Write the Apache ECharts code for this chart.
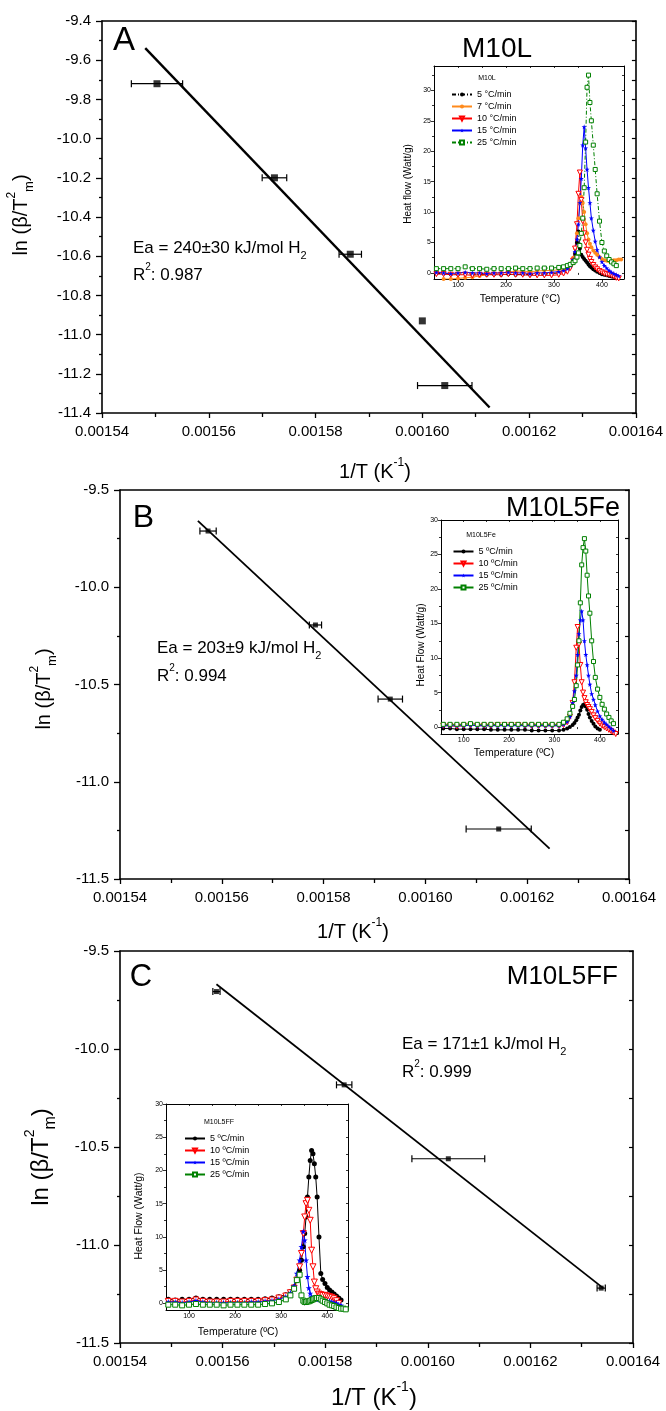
<!DOCTYPE html>
<html><head><meta charset="utf-8">
<script src="https://cdn.jsdelivr.net/npm/echarts@6/dist/echarts.min.js"></script>
<style>html,body{margin:0;padding:0;background:#fff}#c{width:666px;height:1411px}</style>
</head><body><div id="c"></div>
<script>
// ================= DATA =================
// Kissinger plots: 1/T (K^-1), ln(beta/Tm^2), horizontal error (K^-1)
const aInvT = [0.0015503, 0.0015723, 0.0015865, 0.0016000, 0.0016042];
const aLn   = [-9.72, -10.20, -10.59, -10.93, -11.26];
const aErr  = [0.0000048, 0.0000023, 0.0000021, 0, 0.0000051];
const aFitInvT = [0.0015481, 0.0016126];
const aFitLn   = [-9.538, -11.372];

const bInvT = [0.0015573, 0.0015784, 0.0015931, 0.0016144];
const bLn   = [-9.711, -10.194, -10.575, -11.243];
const bErr  = [0.0000016, 0.0000012, 0.0000024, 0.0000064];
const bFitInvT = [0.0015553, 0.0016244];
const bFitLn   = [-9.659, -11.344];

const cInvT = [0.0015588, 0.0015837, 0.0016040, 0.0016338];
const cLn   = [-9.707, -10.183, -10.560, -11.220];
const cErr  = [0.0000007, 0.0000015, 0.0000071, 0.0000008];
const cFitInvT = [0.0015588, 0.0016342];
const cFitLn   = [-9.670, -11.220];

// main axis tick settings (values)
const invTMin = 0.00154, invTMax = 0.00164, invTStep = 0.00002;

// DSC insets: temperature grid (°C)
const temps = [55,70,85,100,115,130,145,160,175,190,205,220,235,250,265,280,295,310,320,
  328,334,340,344,348,351,354,357,360,363,366,369,372,375,378,
  382,386,390,395,400,405,410,415,420,425,430,435,440];

// M10L heat flow (W/g)
const m10l_5 = [-0.1,-0.1,-0.2,-0.2,-0.1,-0.2,-0.2,-0.3,-0.2,-0.3,-0.2,-0.3,-0.2,-0.3,-0.2,-0.2,-0.1,0.0,0.2,
  0.5,1.0,2.0,3.2,5.0,6.8,4.0,3.0,2.6,2.3,2.0,1.7,1.4,1.1,0.9,
  0.6,0.4,0.2,0.0,-0.2,-0.3,-0.4,-0.5,-0.6,-0.7,-0.8,null,null];
const m10l_7 = [null,-1.0,-1.0,-0.9,-0.8,-0.7,-0.5,-0.3,-0.1,0.0,0.1,0.3,0.3,0.2,0.3,0.4,0.4,0.5,0.7,
  1.0,1.5,2.5,4.0,6.5,9.0,11.5,12.5,11.5,10.0,8.0,6.5,5.5,4.8,4.2,
  3.7,3.3,3.0,2.6,2.3,2.1,2.0,1.9,2.0,2.1,2.1,2.2,2.2];
const m10l_10 = [-0.2,-0.2,-0.3,-0.3,-0.3,-0.4,-0.3,-0.3,-0.3,-0.3,-0.2,-0.3,-0.3,-0.4,-0.4,-0.4,-0.4,-0.3,-0.1,
  0.2,0.8,2.0,4.0,8.0,13.0,16.5,12.0,8.5,6.5,5.0,3.8,3.0,2.3,1.8,
  1.3,0.9,0.6,0.3,0.1,-0.1,-0.2,-0.3,-0.4,-0.6,-0.8,-0.9,null];
const m10l_15 = [0.1,0.0,-0.1,0.0,0.1,0.0,0.0,-0.1,0.0,0.0,0.1,0.0,0.0,-0.1,0.0,0.0,0.1,0.2,0.4,
  0.7,1.2,2.2,3.5,5.5,8.0,11.5,15.5,21.0,24.0,20.5,17.0,14.0,11.5,9.0,
  7.0,5.2,3.8,2.6,1.8,1.2,0.8,0.4,0.1,-0.1,-0.3,-0.5,null];
const m10l_25 = [0.7,0.7,0.7,0.7,1.0,0.7,0.7,0.6,0.7,0.7,0.7,0.8,0.7,0.7,0.8,0.8,0.8,0.9,1.0,
  1.2,1.4,1.7,2.0,2.6,3.3,4.5,6.5,9.0,14.0,21.5,30.5,32.5,28.0,25.0,
  21.0,17.0,13.0,8.5,5.0,3.6,2.8,2.2,1.8,1.5,1.2,null,null];

// M10L5Fe heat flow (W/g)
const fe_5 = [-0.2,-0.2,-0.3,-0.3,-0.3,-0.3,-0.3,-0.4,-0.4,-0.4,-0.4,-0.4,-0.4,-0.5,-0.5,-0.5,-0.5,-0.5,-0.4,
  -0.2,0.0,0.3,0.6,1.0,1.4,1.8,2.4,2.9,3.2,3.3,3.0,2.5,1.9,1.4,
  0.9,0.5,0.1,-0.2,-0.4,null,null,null,null,null,null,null,null];
const fe_10 = [0.2,0.2,0.1,0.2,0.3,0.2,0.2,0.2,0.3,0.3,0.3,0.3,0.2,0.2,0.2,0.2,0.2,0.2,0.3,
  0.7,1.5,3.5,6.5,11.5,14.5,12.0,9.0,6.5,5.0,4.2,3.6,3.2,2.9,2.6,
  2.2,1.7,1.3,0.9,0.5,0.2,0.0,-0.2,-0.4,-0.6,-0.8,-1.0,null];
const fe_15 = [0.2,0.2,0.2,0.2,0.3,0.2,0.2,0.2,0.2,0.2,0.2,0.2,0.2,0.2,0.2,0.2,0.2,0.2,0.4,
  0.8,1.5,3.5,5.2,7.5,10.5,13.5,15.5,16.8,15.5,12.5,10.5,9.0,7.5,6.2,
  4.8,4.0,3.2,2.3,1.6,1.1,0.7,0.4,0.1,-0.2,-0.5,null,null];
const fe_25 = [0.4,0.4,0.4,0.4,0.5,0.4,0.4,0.4,0.4,0.4,0.4,0.4,0.4,0.4,0.4,0.4,0.4,0.4,0.7,
  1.2,2.0,3.0,4.0,6.0,9.0,12.5,18.0,23.5,26.0,27.3,25.5,22.0,19.0,16.5,
  12.5,9.5,7.2,5.5,4.3,3.3,2.6,1.9,1.4,0.9,0.5,null,null];

// M10L5FF heat flow (W/g)
const ff_5 = [0.6,0.5,0.6,0.6,0.8,0.6,0.6,0.6,0.6,0.6,0.6,0.6,0.6,0.6,0.7,0.8,1.0,1.3,1.8,
  2.5,3.5,5.0,6.5,8.5,10.5,13.0,16.0,19.0,21.5,23.0,22.5,21.0,19.0,16.0,
  10.0,4.5,3.6,3.0,2.4,2.0,1.7,1.4,1.1,0.8,0.5,null,null];
const ff_10 = [0.3,0.3,0.2,0.3,0.5,0.3,0.2,0.2,0.2,0.3,0.3,0.3,0.3,0.3,0.4,0.5,0.8,1.1,1.6,
  2.3,3.5,5.5,7.5,10.5,13.0,15.0,15.5,14.0,12.5,8.0,5.5,3.2,2.2,1.7,
  1.4,1.3,1.2,1.2,1.1,1.0,0.9,0.7,0.4,0.0,null,null,null];
const ff_15 = [0.2,0.2,0.1,0.2,0.4,0.2,0.1,0.1,0.1,0.1,0.1,0.1,0.2,0.2,0.3,0.4,0.6,1.0,1.6,
  2.6,4.5,6.5,8.5,10.8,9.5,6.5,4.0,2.3,1.5,1.0,0.8,0.7,0.7,0.6,
  0.6,0.5,0.5,0.4,0.3,0.3,0.2,0.1,0.0,-0.2,-0.3,null,null];
const ff_25 = [-0.2,-0.2,-0.3,-0.2,-0.1,-0.2,-0.2,-0.2,-0.3,-0.2,-0.2,-0.2,-0.2,-0.2,-0.1,0.0,0.2,0.6,1.2,
  2.2,3.5,4.3,1.2,0.4,0.2,0.2,0.3,0.3,0.4,0.5,0.6,0.7,0.8,0.8,
  0.8,0.6,0.4,0.2,0.0,-0.2,-0.3,-0.4,-0.6,-0.7,-0.8,-0.8,-0.9];

// inset tick values
const insetXMajor = [100, 200, 300, 400];
const insetXMinor = [50, 150, 250, 350];
const insetYMajor = [0, 5, 10, 15, 20, 25, 30];
const insetYMinor = [2.5, 7.5, 12.5, 17.5, 22.5, 27.5, 32.5];

// ================= CHART =================
const FONT = '"Liberation Sans", Arial, Helvetica, sans-serif';
const xAxes = [], yAxes = [], grids = [], series = [];

function addMainGrid(g, ymin, ymax, yint, rint) {
  const gi = grids.length; grids.push(Object.assign({containLabel:false}, g));
  const xi = xAxes.length, yi = yAxes.length;
  const line = {show:true, onZero:false, lineStyle:{color:'#000', width:1.6}};
  xAxes.push({gridIndex:gi, type:'value', position:'bottom', min:invTMin, max:invTMax, interval:invTStep,
    axisLine:line, splitLine:{show:false},
    axisTick:{show:true, inside:false, length:5, lineStyle:{color:'#000', width:1.3}},
    minorTick:{show:true, splitNumber:2, length:4, lineStyle:{color:'#000', width:1.3}},
    axisLabel:{show:true, margin:11, color:'#000', fontSize:15, fontFamily:FONT, formatter:v=>v.toFixed(5)}});
  xAxes.push({gridIndex:gi, type:'value', position:'top', min:invTMin, max:invTMax, interval:invTStep,
    axisLine:line, splitLine:{show:false}, axisTick:{show:false}, axisLabel:{show:false}});
  yAxes.push({gridIndex:gi, type:'value', position:'left', min:ymin, max:ymax, interval:yint,
    axisLine:line, splitLine:{show:false},
    axisTick:{show:true, inside:false, length:6, lineStyle:{color:'#000', width:1.3}},
    minorTick:{show:true, splitNumber:2, length:3, lineStyle:{color:'#000', width:1.3}},
    axisLabel:{show:true, margin:11, color:'#000', fontSize:15, fontFamily:FONT, formatter:v=>v.toFixed(1)}});
  yAxes.push({gridIndex:gi, type:'value', position:'right', min:ymin, max:ymax, interval:rint,
    axisLine:line, splitLine:{show:false},
    axisTick:{show:true, inside:true, length:4, lineStyle:{color:'#000', width:1.2}},
    axisLabel:{show:false}});
  return [xi, yi];
}

function addInsetGrid(g, xmin, xmax, ymin, ymax) {
  const gi = grids.length;
  grids.push(Object.assign({show:true, backgroundColor:'#fff', borderWidth:0, containLabel:false}, g));
  const xi = xAxes.length, yi = yAxes.length;
  const inR = (arr, a, b) => arr.filter(v => v >= a && v <= b);
  const line = {show:true, onZero:false, lineStyle:{color:'#000', width:1}};
  const tk = (vals, inside, len) => ({show:true, inside, length:len, customValues:vals, lineStyle:{color:'#000', width:0.8}});
  const lab = {show:true, customValues:inR(insetXMajor,xmin,xmax), margin:3, color:'#000', fontSize:7, fontFamily:FONT};
  xAxes.push({gridIndex:gi, type:'value', position:'bottom', min:xmin, max:xmax, axisLine:line,
    splitLine:{show:false}, axisTick:tk(inR(insetXMajor,xmin,xmax), false, 3), axisLabel:lab});
  xAxes.push({gridIndex:gi, type:'value', position:'bottom', min:xmin, max:xmax, axisLine:{show:false},
    splitLine:{show:false}, axisTick:tk(inR(insetXMinor,xmin,xmax), false, 2), axisLabel:{show:false}});
  xAxes.push({gridIndex:gi, type:'value', position:'top', min:xmin, max:xmax, axisLine:line,
    splitLine:{show:false}, axisTick:tk(inR(insetXMajor.concat(insetXMinor),xmin,xmax), true, 2), axisLabel:{show:false}});
  yAxes.push({gridIndex:gi, type:'value', position:'left', min:ymin, max:ymax, axisLine:line,
    splitLine:{show:false}, axisTick:tk(inR(insetYMajor,ymin,ymax), false, 3),
    axisLabel:{show:true, customValues:inR(insetYMajor,ymin,ymax), margin:3, color:'#000', fontSize:7, fontFamily:FONT}});
  yAxes.push({gridIndex:gi, type:'value', position:'left', min:ymin, max:ymax, axisLine:{show:false},
    splitLine:{show:false}, axisTick:tk(inR(insetYMinor,ymin,ymax), false, 2), axisLabel:{show:false}});
  yAxes.push({gridIndex:gi, type:'value', position:'right', min:ymin, max:ymax, axisLine:line,
    splitLine:{show:false}, axisTick:tk(inR(insetYMajor.concat(insetYMinor),ymin,ymax), true, 2), axisLabel:{show:false}});
  return [xi, yi];
}

function errRender(params, api) {
  const x = api.value(0), y = api.value(1), e = api.value(2);
  if (!e) return {type:'group', children:[]};
  const p1 = api.coord([x - e, y]), p2 = api.coord([x + e, y]);
  const cap = 3.5, st = {stroke:'#000', lineWidth:1.2};
  return {type:'group', children:[
    {type:'line', shape:{x1:p1[0], y1:p1[1], x2:p2[0], y2:p2[1]}, style:st},
    {type:'line', shape:{x1:p1[0], y1:p1[1]-cap, x2:p1[0], y2:p1[1]+cap}, style:st},
    {type:'line', shape:{x1:p2[0], y1:p2[1]-cap, x2:p2[0], y2:p2[1]+cap}, style:st}
  ]};
}

function addKissinger(ax, xs, ys, es, fx, fy, msize, lw) {
  const [xi, yi] = ax;
  series.push({type:'custom', xAxisIndex:xi, yAxisIndex:yi, renderItem:errRender, clip:false,
    encode:{x:0, y:1}, data:xs.map((x,i)=>[x, ys[i], es[i]]), z:3, silent:true});
  series.push({type:'scatter', xAxisIndex:xi, yAxisIndex:yi, symbol:'rect', symbolSize:msize,
    itemStyle:{color:'#000'}, data:xs.map((x,i)=>[x, ys[i]]), z:4, silent:true});
  series.push({type:'line', xAxisIndex:xi, yAxisIndex:yi, symbol:'none', data:fx.map((x,i)=>[x, fy[i]]),
    lineStyle:{color:'#000', width:lw}, z:5, silent:true});
}

const STAR = 'path://M0,-10L2.35,-3.24L9.51,-3.09L3.8,1.24L5.88,8.09L0,4L-5.88,8.09L-3.8,1.24L-9.51,-3.09L-2.35,-3.24Z';
function addDsc(ax, name, ys, color, sym, open, dash, size, rot) {
  const [xi, yi] = ax;
  const data = [];
  temps.forEach((t, i) => { if (ys[i] !== null) data.push([t, ys[i]]); });
  series.push({type:'line', name, xAxisIndex:xi, yAxisIndex:yi, data, symbol:sym, symbolSize:size,
    symbolRotate:rot || 0, showSymbol:true, showAllSymbol:true, silent:true,
    lineStyle:{color, width:1, type: dash ? [4,2,1,2] : 'solid'},
    itemStyle:{color: open ? '#fff' : color, borderColor: color, borderWidth: open ? 1 : 0}, z:3});
}

// panels
const mainA = addMainGrid({left:102, top:21, width:537, height:392}, -11.4, -9.4, 0.2, 0.1);
const insA = addInsetGrid({left:434, top:66, width:190, height:213}, 50, 446, -1, 34);
const mainB = addMainGrid({left:120, top:490, width:509, height:389}, -11.5, -9.5, 0.5, 0.25);
const insB = addInsetGrid({left:441, top:520, width:177, height:214}, 50, 440, -1, 30);
const mainC = addMainGrid({left:120, top:951, width:513, height:392}, -11.5, -9.5, 0.5, 0.25);
const insC = addInsetGrid({left:166, top:1104, width:182, height:206}, 50, 445, -1, 30);

addKissinger(mainA, aInvT, aLn, aErr, aFitInvT, aFitLn, 7, 2.4);
addKissinger(mainB, bInvT, bLn, bErr, bFitInvT, bFitLn, 5, 1.8);
addKissinger(mainC, cInvT, cLn, cErr, cFitInvT, cFitLn, 5, 1.8);

const BLACK='#000000', ORANGE='#ff8a1c', RED='#ff0000', BLUE='#0000ff', GREEN='#008000';
const namesA = ['5 °C/min','7 °C/min','10 °C/min','15 °C/min','25 °C/min'];
const namesBC = ['5 ºC/min','10 ºC/min','15 ºC/min','25 ºC/min'];

addDsc(insA, namesA[0], m10l_5, BLACK, 'circle', false, true, 4);
addDsc(insA, namesA[1], m10l_7, ORANGE, 'circle', false, false, 4);
addDsc(insA, namesA[2], m10l_10, RED, 'triangle', true, false, 5, 180);
addDsc(insA, namesA[3], m10l_15, BLUE, STAR, false, false, 5);
addDsc(insA, namesA[4], m10l_25, GREEN, 'rect', true, true, 4);

addDsc(insB, namesBC[0], fe_5, BLACK, 'circle', false, false, 4);
addDsc(insB, namesBC[1], fe_10, RED, 'triangle', true, false, 5, 180);
addDsc(insB, namesBC[2], fe_15, BLUE, STAR, false, false, 5);
addDsc(insB, namesBC[3], fe_25, GREEN, 'rect', true, false, 4);

addDsc(insC, namesBC[0], ff_5, BLACK, 'circle', false, false, 5);
addDsc(insC, namesBC[1], ff_10, RED, 'triangle', true, false, 6, 180);
addDsc(insC, namesBC[2], ff_15, BLUE, STAR, false, false, 6);
addDsc(insC, namesBC[3], ff_25, GREEN, 'rect', true, false, 5);

function legendAt(left, top, names) {
  return {show:true, orient:'vertical', left, top, padding:0, itemWidth:20, itemHeight:5, itemGap:3,
    selectedMode:false, data:names,
    textStyle:{color:'#000', fontSize:9, lineHeight:8, fontFamily:FONT}};
}

function richSet(F) {
  return {
    n:{fontSize:F, fontFamily:FONT, lineHeight:Math.round(F*1.5), fill:'#000'},
    sup:{fontSize:Math.round(F*0.6), fontFamily:FONT, lineHeight:Math.round(F*0.9), verticalAlign:'top', fill:'#000'},
    sub:{fontSize:Math.round(F*0.65), fontFamily:FONT, lineHeight:Math.round(F*0.65), verticalAlign:'bottom', fill:'#000'}
  };
}
function txt(x, y, text, size, align, rot) {
  return {type:'text', x, y, rotation:rot || 0, z:100, silent:true,
    style:{text, fill:'#000', fontSize:size, fontFamily:FONT, textAlign:align || 'center', textVerticalAlign:'middle'}};
}
function rtxt(x, y, text, size, align, rot) {
  return {type:'text', x, y, rotation:rot || 0, z:100, silent:true,
    style:{text, fill:'#000', fontSize:size, fontFamily:FONT, textAlign:align || 'center', textVerticalAlign:'middle', rich:richSet(size)}};
}
const R90 = Math.PI / 2;
const graphics = [
  // panel A
  txt(124, 41, 'A', 33), txt(497, 49, 'M10L', 28),
  rtxt(133, 248, '{n|Ea = 240±30 kJ/mol H}{sub|2}', 17, 'left'),
  rtxt(133, 275.5, '{n|R}{sup|2}{n|: 0.987}', 17, 'left'),
  rtxt(21, 215, '{n|ln (β/T}{sup|2}{sub|m}{n|)}', 20, 'center', R90),
  rtxt(375, 472, '{n|1/T (K}{sup|-1}{n|)}', 20),
  txt(487, 78, 'M10L', 7),
  txt(408, 184, 'Heat flow (Watt/g)', 10, 'center', R90),
  txt(520, 299, 'Temperature (°C)', 10.5),
  // panel B
  txt(143.5, 518, 'B', 32), txt(620, 509, 'M10L5Fe', 27, 'right'),
  rtxt(157, 648.5, '{n|Ea = 203±9 kJ/mol H}{sub|2}', 17, 'left'),
  rtxt(157, 676, '{n|R}{sup|2}{n|: 0.994}', 17, 'left'),
  rtxt(44, 689, '{n|ln (β/T}{sup|2}{sub|m}{n|)}', 20, 'center', R90),
  rtxt(353, 932, '{n|1/T (K}{sup|-1}{n|)}', 20),
  txt(481, 535, 'M10L5Fe', 7),
  txt(421, 645, 'Heat Flow (Watt/g)', 10, 'center', R90),
  txt(514, 753, 'Temperature (ºC)', 10.5),
  // panel C
  txt(141, 977.5, 'C', 31), txt(618, 977, 'M10L5FF', 26, 'right'),
  rtxt(402, 1044.7, '{n|Ea = 171±1 kJ/mol H}{sub|2}', 17, 'left'),
  rtxt(402, 1072, '{n|R}{sup|2}{n|: 0.999}', 17, 'left'),
  rtxt(41, 1157, '{n|ln (β/T}{sup|2}{sub|m}{n|)}', 24, 'center', R90),
  rtxt(374, 1398, '{n|1/T (K}{sup|-1}{n|)}', 24),
  txt(219, 1122, 'M10L5FF', 7),
  txt(139.5, 1216, 'Heat Flow (Watt/g)', 10.5, 'center', R90),
  txt(238, 1332, 'Temperature (ºC)', 10.5)
];

const chart = echarts.init(document.getElementById('c'), null, {renderer:'canvas'});
chart.setOption({
  animation:false,
  backgroundColor:'#fff',
  grid:grids, xAxis:xAxes, yAxis:yAxes, series,
  legend:[legendAt(451, 90, namesA), legendAt(452.5, 547, namesBC), legendAt(184, 1134, namesBC)],
  graphic:graphics
});
</script></body></html>
